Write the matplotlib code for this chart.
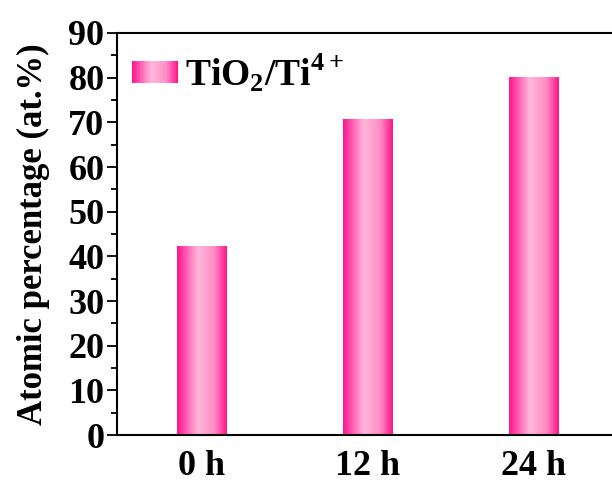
import numpy as np
import matplotlib.pyplot as plt
from matplotlib.patches import Rectangle
from matplotlib.legend_handler import HandlerBase
from matplotlib.colors import LinearSegmentedColormap

plt.rcParams['font.family'] = ['Liberation Serif', 'DejaVu Serif']
plt.rcParams['font.weight'] = 'bold'
plt.rcParams['mathtext.fontset'] = 'custom'
plt.rcParams['mathtext.rm'] = 'Liberation Serif:bold'
plt.rcParams['mathtext.bf'] = 'Liberation Serif:bold'

categories = ['0 h', '12 h', '24 h']
values = [42.2, 70.7, 80.1]
series_name = 'TiO$_2$/Ti$^{4+}$'

cmap = LinearSegmentedColormap.from_list(
    'pinkbar', [(0.0, '#ff1490'), (0.42, '#ffb8dc'), (0.75, '#ff8cc6'), (1.0, '#ff1489')])
grad = np.linspace(0, 1, 256).reshape(1, -1)


class GradHandler(HandlerBase):
    def create_artists(self, legend, orig_handle, xdescent, ydescent,
                       width, height, fontsize, trans):
        n = 60
        arts = []
        for i in range(n):
            r = Rectangle((-xdescent + width * i / n, -ydescent), width / n * 1.05, height,
                          facecolor=cmap((i + 0.5) / n), edgecolor='none', transform=trans)
            arts.append(r)
        return arts


fig = plt.figure(figsize=(6.12, 4.86), dpi=100)
ax = fig.add_axes([117 / 612, 1 - 435 / 486, (612 - 117) / 612, (435 - 33) / 486])

x = np.arange(len(categories))
bars = ax.bar(x, values, width=0.3, color='none', edgecolor='none', zorder=2)
for b in bars:
    x0, y0, w, h = b.get_x(), b.get_y(), b.get_width(), b.get_height()
    ax.imshow(grad, cmap=cmap, aspect='auto', extent=(x0, x0 + w, y0, y0 + h), zorder=2)

ax.set_xlim(-0.512, 2.47)
ax.set_ylim(0, 90)
ax.set_xticks(x)
ax.set_xticklabels(categories, fontsize=26, fontweight='bold')
ax.set_yticks(np.arange(0, 91, 10))
ax.set_yticks(np.arange(5, 90, 10), minor=True)
ax.tick_params(axis='y', which='major', direction='out', length=7, width=1.3, labelsize=26, pad=2)
ax.tick_params(axis='y', which='minor', direction='out', length=4, width=1.3)
ax.tick_params(axis='x', length=0, pad=11)
for lab in ax.get_yticklabels():
    lab.set_fontweight('bold')
ax.spines['right'].set_visible(False)
for s in ['left', 'bottom', 'top']:
    ax.spines[s].set_linewidth(1.5)

ax.set_ylabel('Atomic percentage (at.%)', fontsize=25, fontweight='bold', labelpad=13)

proxy = Rectangle((0, 0), 1, 1)
ax.legend([proxy], [series_name], handler_map={Rectangle: GradHandler()},
          loc='upper left', frameon=False, fontsize=27, handlelength=1.23, handleheight=0.56,
          handletextpad=0.2, borderaxespad=0.0, borderpad=0.0,
          bbox_to_anchor=(0.03, 0.955))

fig.savefig('out.png', dpi=100)
